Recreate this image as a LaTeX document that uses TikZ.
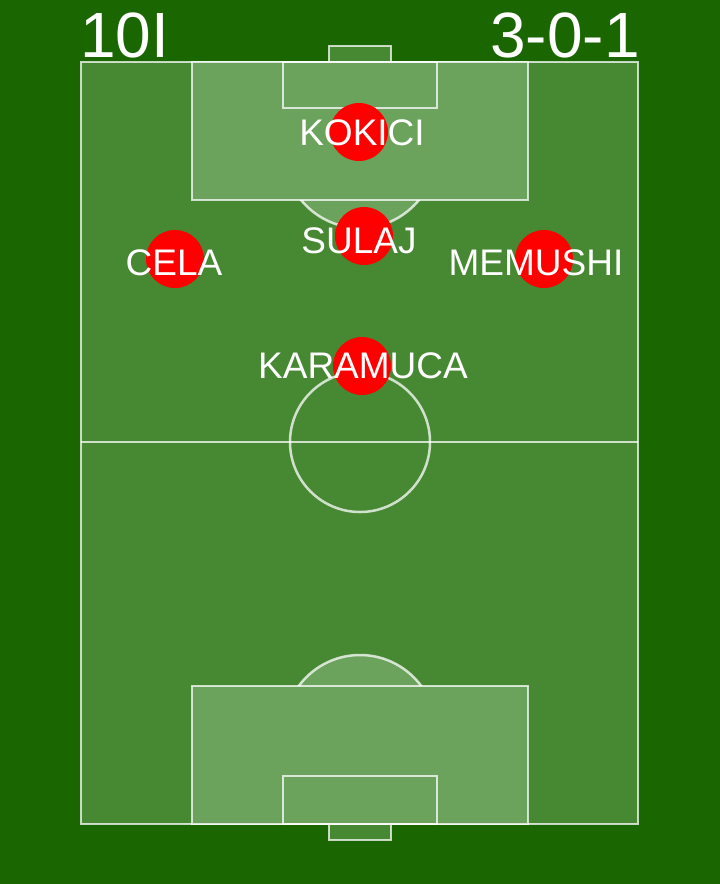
\documentclass[tikz,border=0pt]{standalone}
\usepackage{fontspec}
\setmainfont{Liberation Sans}
\usepackage{tikz}
\definecolor{grass}{HTML}{1A6600}
\definecolor{pitch}{HTML}{478833}
\definecolor{boxgreen}{HTML}{6BA25C}

\begin{document}
\begin{tikzpicture}[
		x=1pt, y=-1pt,
		line/.style={
				draw=white,
				draw opacity=0.75,
				line width=2.5pt
			},
		player/.style={circle, fill=red, minimum size=58pt, inner sep=0pt},
		playername/.style={text=white, font=\fontsize{37}{40}\selectfont, inner sep=0pt, anchor=base},
		scoretext/.style={text=white, font=\fontsize{64}{70}\selectfont, inner sep=0pt}
	]
	\fill[grass] (0,0) rectangle (720,884);
	\useasboundingbox (0,0) rectangle (720,884);

	% pitch and goals
	\filldraw[line, fill=pitch] (81,62) rectangle (638,824);
	\filldraw[line, fill=pitch] (329,46) rectangle (391,62);
	\filldraw[line, fill=pitch] (329,824) rectangle (391,840);

	% penalty arcs, the boxes cover the rest of the circles
	\filldraw[line, fill=boxgreen] (360,152) circle (76);
	\filldraw[line, fill=boxgreen] (360,731) circle (76);
	\filldraw[line, fill=boxgreen] (192,62) rectangle (528,200);
	\filldraw[line, fill=boxgreen] (192,686) rectangle (528,824);
	\draw[line] (283,62) rectangle (437,108);
	\draw[line] (283,776) rectangle (437,824);

	% halfway line
	\draw[line] (81,442) -- (638,442);
	\draw[line] (360,442) circle (70);

	\node[scoretext, anchor=base west] (team) at (80,57) {10I};
	\node[scoretext, anchor=base east] (formation) at (640,57) {3-0-1};

	\foreach \id/\cx/\cy/\tx/\ty/\nm in {
			kokici/359/132/362/145/KOKICI,
			sulaj/364/236/359/253/SULAJ,
			cela/175/259/174/275/CELA,
			memushi/544/259/536/275/MEMUSHI,
			karamuca/362/366/363/378/KARAMUCA} {
		\node[player] (\id) at (\cx,\cy) {};
		\node[playername] (\id-name) at (\tx,\ty) {\nm};
	}
\end{tikzpicture}
\end{document}
